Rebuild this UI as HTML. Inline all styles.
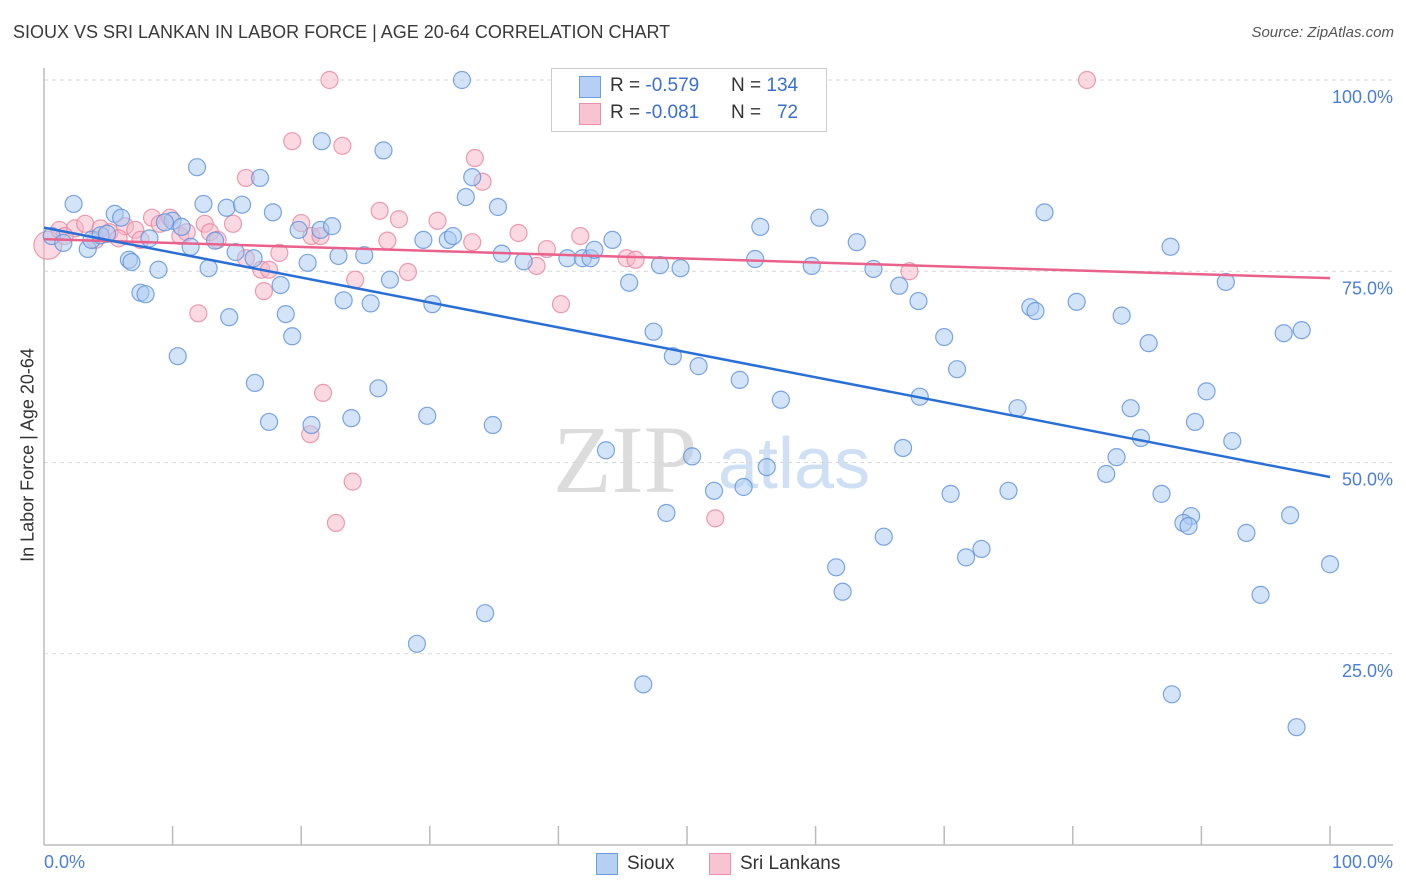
<!DOCTYPE html>
<html><head><meta charset="utf-8"><style>
body{margin:0;background:#fff;font-family:"Liberation Sans",sans-serif;}
#wrap{position:relative;width:1406px;height:892px;overflow:hidden;}
.t{position:absolute;white-space:nowrap;}
</style></head><body>
<div id="wrap">
<div class="t" style="left:13px;top:22px;font-size:18px;color:#3a3a3a;">SIOUX VS SRI LANKAN IN LABOR FORCE | AGE 20-64 CORRELATION CHART</div>
<div class="t" style="right:12px;top:24px;font-size:15px;color:#555;font-style:italic;">Source: ZipAtlas.com</div>
<div class="t" style="left:28px;top:455px;font-size:18px;color:#333;transform:translate(-50%,-50%) rotate(-90deg);">In Labor Force | Age 20-64</div>
<svg id="svg" width="1406" height="892" style="position:absolute;left:0;top:0"></svg>
<div style="position:absolute;left:551px;top:68px;width:274px;height:62px;border:1px solid #ccc;background:#fff;font-size:19px;">
 <div style="position:absolute;left:27px;top:7px;width:20px;height:20px;background:#b6d0f4;border:1px solid #6f9be0;"></div>
 <div class="t" style="left:58px;top:6px;color:#333">R = <span style="color:#3a6fd0">-0.579</span></div>
 <div class="t" style="left:179px;top:6px;color:#333">N = <span style="color:#3a6fd0">134</span></div>
 <div style="position:absolute;left:27px;top:34px;width:20px;height:20px;background:#f9c4d2;border:1px solid #ea90ab;"></div>
 <div class="t" style="left:58px;top:33px;color:#333">R = <span style="color:#3a6fd0">-0.081</span></div>
 <div class="t" style="left:179px;top:33px;color:#333">N = &nbsp;&nbsp;<span style="color:#3a6fd0">72</span></div>
</div>
<div class="t" style="left:44px;top:852px;font-size:18px;color:#4a7fd8;">0.0%</div>
<div class="t" style="right:13px;top:852px;font-size:18px;color:#4a7fd8;">100.0%</div>
<div style="position:absolute;left:596px;top:853px;width:20px;height:20px;background:#b6d0f4;border:1px solid #6f9be0;"></div>
<div class="t" style="left:627px;top:853px;font-size:19px;color:#333;">Sioux</div>
<div style="position:absolute;left:709px;top:853px;width:20px;height:20px;background:#f9c4d2;border:1px solid #ea90ab;"></div>
<div class="t" style="left:740px;top:853px;font-size:19px;color:#333;">Sri Lankans</div>
</div>
<script>
const yTicks=[100,75,50,25];
const yTickLabels=["100.0%","75.0%","50.0%","25.0%"];
const siouxX=[32.5,21.6,26.4,11.9,16.8,33.3,32.8,35.3,2.3,12.4,14.2,15.4,5.5,6.0,17.8,10.0,10.7,19.8,21.5,22.4,0.6,1.5,3.4,3.7,4.4,4.9,8.2,9.4,13.3,11.4,14.9,16.3,20.5,22.9,24.9,29.5,31.4,31.8,35.6,37.3,40.7,41.9,42.5,42.8,44.2,47.9,49.5,55.7,55.3,59.7,60.3,63.2,64.5,66.5,68.0,77.8,87.6,91.9,6.6,6.8,8.9,12.8,18.4,7.5,7.9,23.3,25.4,26.9,30.2,45.5,47.4,48.9,50.9,54.1,57.3,68.1,70.0,71.0,76.7,77.1,80.3,83.8,85.9,96.4,97.8,90.4,75.7,84.5,89.5,85.3,92.4,83.4,82.6,86.9,89.2,88.6,89.0,93.5,96.9,100,94.6,87.7,97.4,10.4,14.4,18.8,19.3,16.4,17.5,20.8,23.9,26.0,29.8,34.9,43.7,50.4,52.1,54.4,56.2,66.8,70.5,75.0,48.4,65.3,71.7,72.9,61.6,62.1,34.3,29.0,46.6];
const siouxY=[100,92.0,90.8,88.6,87.2,87.3,84.7,83.4,83.8,83.8,83.3,83.7,82.5,82.0,82.7,81.6,80.8,80.4,80.4,80.9,79.6,78.7,77.9,79.1,79.7,79.9,79.3,81.4,79.0,78.2,77.5,76.7,76.1,77.0,77.1,79.1,79.1,79.6,77.3,76.3,76.7,76.7,76.7,77.8,79.1,75.8,75.4,80.8,76.6,75.7,82.0,78.8,75.3,73.1,71.1,82.7,78.2,73.6,76.5,76.2,75.2,75.4,73.2,72.2,72.0,71.2,70.8,73.9,70.7,73.5,67.1,63.9,62.6,60.8,58.2,58.6,66.4,62.2,70.3,69.8,71.0,69.2,65.6,66.9,67.3,59.3,57.1,57.1,55.3,53.2,52.8,50.7,48.5,45.9,43.0,42.1,41.7,40.8,43.1,36.7,32.7,19.7,15.4,63.9,69.0,69.4,66.5,60.4,55.3,54.9,55.8,59.7,56.1,54.9,51.6,50.8,46.3,46.8,49.4,51.9,45.9,46.3,43.4,40.3,37.6,38.7,36.3,33.1,30.3,26.3,21.0];
const lankX=[0.3,22.2,81.1,19.3,23.2,33.5,34.1,15.7,26.1,27.6,30.6,20.0,20.8,21.5,26.7,33.3,36.9,39.1,41.7,45.3,46.0,38.3,67.3,15.7,16.9,17.5,18.3,24.2,28.3,17.1,12.0,40.2,21.7,20.7,24.0,22.7,52.2,1.2,2.4,3.2,4.4,5.1,6.3,7.1,8.4,9.0,9.8,10.6,11.1,12.5,12.9,13.5,14.7,7.5,4.0,5.8,1.6];
const lankY=[78.4,100,100,92.0,91.4,89.8,86.7,87.2,82.9,81.8,81.6,81.3,79.6,79.6,79.0,78.8,80.0,77.9,79.6,76.7,76.5,75.7,75.0,76.7,75.2,75.2,77.4,73.9,74.9,72.4,69.5,70.7,59.1,53.7,47.5,42.1,42.7,80.4,80.6,81.2,80.6,80.1,80.9,80.4,82.0,81.2,82.0,79.6,80.1,81.2,80.1,79.1,81.2,79.1,79.1,79.3,79.6];
const siouxTrend=[80.7,48.1];
const lankTrend=[79.2,74.1];
const X0=44,X1=1330,Y0=845,YS=7.65;
const sx=v=>X0+(X1-X0)*v/100, sy=v=>Y0-v*YS;
const svg=document.getElementById('svg'),NS='http://www.w3.org/2000/svg';
function mk(t,a){const e=document.createElementNS(NS,t);for(const k in a)e.setAttribute(k,a[k]);svg.appendChild(e);return e;}
let w=mk('text',{x:553,y:492,'font-size':96,'font-family':'Liberation Serif,serif',fill:'#dcdcdc'});w.textContent='ZIP';


w=mk('text',{x:718,y:488,'font-size':72,'font-family':'Liberation Sans,sans-serif',fill:'#cfe0f4'});w.textContent='atlas';


yTicks.forEach((v,i)=>{
 const g=mk('line',{x1:X0,x2:1393,y1:sy(v),y2:sy(v),stroke:'#d8d8d8','stroke-dasharray':'4,4'});
 
 
 const t=mk('text',{x:1393,y:sy(v)+23,'text-anchor':'end','font-size':18,fill:'#4a7fd8','font-family':'Liberation Sans,sans-serif'});t.textContent=yTickLabels[i];
 
 
});
let a=mk('line',{x1:X0,x2:X0,y1:68,y2:Y0,stroke:'#bbb','stroke-width':1.5});


a=mk('line',{x1:X0,x2:1393,y1:Y0,y2:Y0,stroke:'#bbb','stroke-width':1.5});


for(let i=1;i<=10;i++){const tk=mk('line',{x1:sx(i*10),x2:sx(i*10),y1:826,y2:Y0,stroke:'#bbb','stroke-width':1.5});
 
 }
function pts(xs,ys,fill,stroke,name){xs.forEach((x,i)=>{
 const c=mk('circle',{cx:sx(x),cy:sy(ys[i]),r:(name==='srilankan-point'&&i===0)?14:8.5,fill:fill,'fill-opacity':0.5,stroke:stroke,'stroke-opacity':0.8,'stroke-width':1.2});
 
 });}
pts(lankX,lankY,'#f7b3c6','#e9859f','srilankan-point');
pts(siouxX,siouxY,'#a9c9f2','#5c90dc','sioux-point');
let l=mk('line',{x1:sx(0),y1:sy(lankTrend[0]),x2:sx(100),y2:sy(lankTrend[1]),stroke:'#e8628c','stroke-width':2.5});


l=mk('line',{x1:sx(0),y1:sy(siouxTrend[0]),x2:sx(100),y2:sy(siouxTrend[1]),stroke:'#2a6fd6','stroke-width':2.5});


</script>
</body></html>
